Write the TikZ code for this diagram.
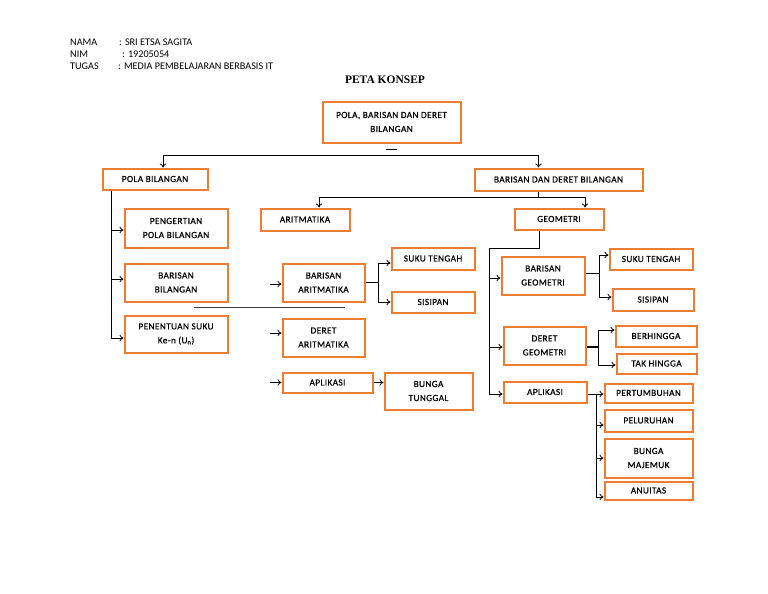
\documentclass[tikz,border=0pt]{standalone}
\usepackage{fontspec}
\setmainfont{Carlito}
\newfontfamily\boxfont[LetterSpace=4,FakeBold=0.6]{Carlito}
\newfontfamily\titlefont{Liberation Serif}
\usetikzlibrary{positioning,arrows.meta}
\definecolor{orng}{RGB}{237,125,49}

\begin{document}
\begin{tikzpicture}[x=1pt,y=-1pt,
  box/.style={rectangle, draw=orng, line width=2pt, fill=white,
              font=\boxfont\fontsize{9.3}{14}\selectfont, align=center, inner sep=1pt},
  ar/.style={-{To[length=4pt,width=6.5pt]}, black, line width=0.8pt},
  ln/.style={black, line width=0.8pt},
  hdr/.style={anchor=west, font=\fontsize{10.2}{12}\selectfont, inner sep=0pt},
]
\useasboundingbox (0,0) rectangle (768,594);

% header
\node[hdr] (nama)  at (70,42) {NAMA};
\node[hdr] (nim)   at (70,54) {NIM};
\node[hdr] (tugas) at (70,66) {TUGAS};
\node[hdr] (namav)  at (119,42) {: SRI ETSA SAGITA};
\node[hdr] (nimv)   at (122,54) {: 19205054};
\node[hdr] (tugasv) at (118,66) {: MEDIA PEMBELAJARAN BERBASIS IT};
\node[font=\titlefont\bfseries\fontsize{11.5}{13}\selectfont] (judul) at (385,80) {PETA KONSEP};

% level 1
\node[box, minimum width=138pt, minimum height=41pt] (top) at (391.5,122) {POLA, BARISAN DAN DERET\\BILANGAN};
\node[box, minimum width=105pt, minimum height=21pt] (pb)  at (155,179) {POLA BILANGAN};
\node[box, minimum width=168pt, minimum height=22pt] (bdb) at (558.5,179.5) {BARISAN DAN DERET BILANGAN};

\draw[ln] ([xshift=-5.5pt,yshift=-6pt]top.south) -- ([xshift=5.5pt,yshift=-6pt]top.south);
\coordinate (j1) at (391,155);
\draw[ar] (j1) -| ([xshift=8pt]pb.north);
\draw[ar] (j1) -| ([xshift=-20pt]bdb.north);

% pola bilangan
\node[box, minimum width=103pt, minimum height=39pt] (penger) at (176,228) {PENGERTIAN\\POLA BILANGAN};
\node[box, minimum width=103pt, minimum height=38pt] (barbil) at (176,282.5) {BARISAN\\BILANGAN};
\node[box, minimum width=103pt, minimum height=37pt] (penen)  at (176,334) {PENENTUAN SUKU\\Ke-n (U\textsubscript{n})};

\coordinate (p0) at ([xshift=-44pt]pb.south);
\draw[ar] (p0) |- ([yshift=-2pt]penger.west);
\draw[ar] (p0) |- ([yshift=3.5pt]barbil.west);
\draw[ar] (p0) |- ([yshift=-4pt]penen.west);
\draw[ln, black!75] (194,307) -- (345,307);

% barisan dan deret
\node[box, minimum width=89pt, minimum height=22pt] (arit) at (305,219.5) {ARITMATIKA};
\node[box, minimum width=89pt, minimum height=21pt] (geo)  at (559,219) {GEOMETRI};

\draw[ln] ([xshift=-20pt]bdb.south) -- ++(0,6) coordinate (j2);
\draw[ar] (j2) -| ([xshift=14pt]arit.north);
\draw[ar] (j2) -| ([xshift=26pt]geo.north);

% aritmatika
\node[box, minimum width=82pt, minimum height=38pt] (barar) at (323.5,282.5) {BARISAN\\ARITMATIKA};
\node[box, minimum width=82pt, minimum height=38pt] (derar) at (323.5,337.5) {DERET\\ARITMATIKA};
\node[box, minimum width=90pt, minimum height=20pt] (aplar) at (327.5,382.5) {APLIKASI};
\node[box, minimum width=88pt, minimum height=37pt] (bunga) at (428.5,391) {BUNGA\\TUNGGAL};
\node[box, minimum width=83pt, minimum height=22pt] (sukuar) at (433,258.5) {SUKU TENGAH};
\node[box, minimum width=83pt, minimum height=21pt] (sisar)  at (433,302) {SISIPAN};

\draw[ar] ([xshift=-12pt,yshift=-1.5pt]barar.west) -- ([yshift=-1.5pt]barar.west);
\draw[ar] ([xshift=-12pt,yshift=4.5pt]derar.west) -- ([yshift=4.5pt]derar.west);
\draw[ar] ([xshift=-12pt]aplar.west) -- (aplar.west);
\draw[ar] (aplar.east) -- (aplar.east -| bunga.west);
\draw[ln] (barar.east) -- ++(13,0) coordinate (ba);
\draw[ar] (ba) |- ([yshift=-4.5pt]sukuar.west);
\draw[ar] (ba) |- (sisar.west);

% geometri
\node[box, minimum width=83pt, minimum height=38pt] (bargeo) at (543,275.5) {BARISAN\\GEOMETRI};
\node[box, minimum width=82pt, minimum height=38pt] (dergeo) at (544.5,345.5) {DERET\\GEOMETRI};
\node[box, minimum width=83pt, minimum height=21pt] (aplgeo) at (545,392) {APLIKASI};

\draw[ln] ([xshift=-20pt]geo.south) -- ++(0,18) -- ++(-50,0) coordinate (g0);
\draw[ar] (g0) |- ([yshift=-2.5pt]bargeo.west);
\draw[ar] (g0) |- ([yshift=-1.5pt]dergeo.west);
\draw[ar] (g0) |- ([yshift=-2pt]aplgeo.west);

\node[box, minimum width=83pt, minimum height=21pt] (sukugeo) at (651,259) {SUKU TENGAH};
\node[box, minimum width=81pt, minimum height=22pt] (sisgeo)  at (653,299.5) {SISIPAN};
\node[box, minimum width=81pt, minimum height=21pt] (berh)    at (656,336) {BERHINGGA};
\node[box, minimum width=80pt, minimum height=20pt] (takh)    at (656.5,363.5) {TAK HINGGA};
\node[box, minimum width=88pt, minimum height=19pt] (pert)    at (648.5,393) {PERTUMBUHAN};
\node[box, minimum width=88pt, minimum height=22pt] (pelur)   at (648.5,420.5) {PELURUHAN};
\node[box, minimum width=88pt, minimum height=39pt] (bmaj)    at (648.5,458) {BUNGA\\MAJEMUK};
\node[box, minimum width=88pt, minimum height=18pt] (anu)     at (648.5,490.5) {ANUITAS};

\draw[ln] ([yshift=2.5pt]bargeo.east) -- ++(14,0) coordinate (bg);
\draw[ar] (bg) |- ([yshift=4pt]sukugeo.west);
\draw[ar] (bg) |- ([yshift=2.5pt]sisgeo.west);
\draw[ln, line width=2pt] ([yshift=-1.5pt]dergeo.east) -- ++(12,0) coordinate (dg);
\draw[ar] (dg) |- ([yshift=6pt]berh.west);
\draw[ar] (dg) |- ([yshift=-1.5pt]takh.west);
\draw[ar] ([yshift=-2pt]aplgeo.east) -- ([yshift=-2pt]aplgeo.east -| pert.west);
\coordinate (ag) at ([xshift=9pt,yshift=-2pt]aplgeo.east);
\draw[ar] (ag) |- ([yshift=-4.5pt]pelur.west);
\draw[ar] (ag) |- (bmaj.west);
\draw[ar] (ag) |- ([yshift=-6.5pt]anu.west);
\end{tikzpicture}
\end{document}
